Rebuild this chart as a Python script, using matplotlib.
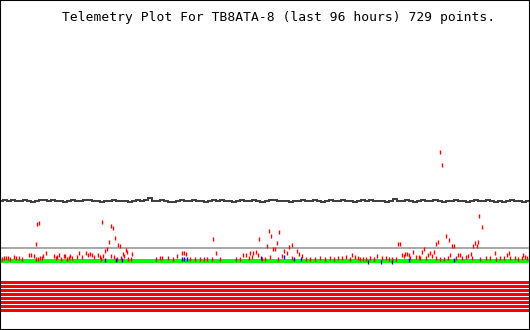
"""Telemetry plot for TB8ATA-8, last 96 hours."""

import matplotlib

matplotlib.use("Agg")
import matplotlib.pyplot as plt
from matplotlib.patches import Rectangle
import numpy as np

TITLE = "Telemetry Plot For TB8ATA-8 (last 96 hours) 729 points."
HOURS = 96

# channel 1 (black trace), evenly sampled over the window
CH1_VALUES = [
    129, 130, 129, 130, 129, 129, 130, 129, 128, 129, 130, 130, 129, 130, 129, 129,
    128, 129, 130, 129, 129, 130, 130, 129, 129, 128, 129, 129, 130, 129, 129, 129,
    128, 129, 130, 129, 130, 132, 129, 129, 130, 129, 128, 128, 129, 130, 129, 129,
    130, 129, 129, 128, 129, 130, 129, 130, 129, 129, 128, 129, 130, 129, 129, 130,
    129, 128, 129, 130, 130, 129, 129, 129, 128, 129, 129, 130, 129, 129, 130, 129,
    128, 129, 130, 129, 129, 130, 129, 129, 128, 129, 130, 129, 130, 129, 129, 129,
    128, 129, 131, 129, 129, 130, 129, 128, 129, 130, 129, 129, 130, 129, 128, 129,
    129, 130, 129, 129, 128, 129, 130, 129, 129, 130, 129, 128, 129, 128, 129, 130,
    129, 129, 128, 129,
]

GRAY_LEVEL = 82.5
GREEN_LEVEL = 69.5

# channel 2 (red samples)
RED_HOURS = [
    6.6, 6.9, 6.4, 18.4, 20.0, 20.4, 20.8, 19.7, 21.3, 21.7, 19.3, 18.9, 22.8, 23.0,
    22.2, 22.4, 23.9, 8.2,
    0.2, 0.5, 0.9, 1.3, 1.6, 2.4, 2.7, 3.3, 3.8, 5.1, 5.5, 6.0, 6.4, 6.7, 7.1, 7.5,
    7.7, 9.7, 10.0, 10.2, 10.6, 10.9, 11.5, 11.7, 12.0, 12.4, 12.6, 12.9, 13.8, 14.2,
    14.8, 15.5, 15.8, 16.2, 16.6, 16.9, 17.7, 18.0, 18.2, 18.6, 20.0, 20.6, 21.1,
    21.9, 23.1, 23.7, 28.2, 29.0, 29.3, 30.4, 31.3, 32.1,
    38.6, 48.8, 49.2, 50.6, 47.0, 48.5, 50.3, 49.5, 49.9, 51.6, 52.1, 52.5, 53.0,
    53.9, 54.3, 54.8,
    33.0, 33.3, 33.7, 39.2, 44.1, 44.6, 45.4, 45.9, 46.5, 46.8, 45.7, 45.2, 49.0,
    51.2, 53.0, 63.9, 34.4, 35.3, 36.2, 37.0, 37.5, 38.4, 39.9, 42.8, 43.5, 47.5,
    48.1, 50.5, 55.6, 56.3, 57.2, 58.1, 59.0, 59.9, 60.7, 61.4, 62.1, 62.8, 63.6,
    64.5, 65.0,
    80.0, 80.3, 87.1, 87.6, 81.1, 79.6, 79.2, 81.6, 82.2, 82.5, 86.3, 86.9, 86.0,
    86.7, 72.3, 72.7, 77.1, 76.7, 78.1, 78.9, 75.0, 73.0, 73.6, 74.0, 74.3, 73.4,
    68.5, 83.2, 83.6, 85.6, 85.1, 84.7, 90.0, 92.5, 92.2, 95.1, 81.8, 77.8, 78.5,
    75.6, 76.1,
    65.4, 65.9, 66.5, 67.2, 67.9, 69.4, 70.1, 70.7, 71.2, 72.0, 74.5, 76.3, 77.4,
    79.2, 80.0, 80.7, 81.4, 82.9, 84.0, 85.8, 87.3, 88.3, 89.1, 90.2, 90.9, 91.6,
    92.7, 93.6, 94.2, 94.9, 95.4, 95.8,
]
RED_VALUES = [
    106, 107, 86, 108, 104, 102, 92, 88, 85, 84, 81, 79, 80, 78,
    76, 74, 76, 77,
    71, 72, 72, 72, 71, 73, 72, 72, 71, 75, 75, 74, 71, 71, 72, 72,
    74, 74, 72, 73, 75, 71, 74, 74, 71, 72, 74, 72, 73, 77,
    73, 77, 75, 76, 75, 73, 75, 73, 71, 74, 74, 73, 71,
    72, 71, 71, 71, 72, 72, 72, 71, 74,
    91, 99, 94, 98, 91, 84, 87, 81, 81, 79, 77, 83, 85,
    79, 76, 74,
    77, 77, 76, 77, 75, 75, 77, 77, 78, 75, 73, 72, 73,
    74, 72, 75, 71, 71, 71, 71, 71, 71, 71, 71, 71, 71,
    71, 71, 71, 71, 71, 72, 71, 72, 71, 72, 72, 73, 71,
    73, 72,
    178, 165, 114, 103, 94, 88, 86, 90, 84, 84, 87, 88, 84,
    84, 86, 86, 81, 78, 77, 78, 78, 75, 76, 76, 75, 74,
    74, 75, 75, 76, 74, 73, 77, 77, 75, 75, 75, 75, 74,
    73, 73,
    71, 71, 71, 72, 71, 72, 72, 71, 71, 71, 72, 72, 72,
    72, 71, 71, 72, 72, 72, 72, 71, 72, 72, 71, 72, 72,
    72, 72, 71, 72, 73, 72,
]

# channel 3 (blue samples)
BLUE_HOURS = [18.9, 20.9, 22.0, 33.0, 33.3, 33.9, 47.4, 51.6, 53.4, 54.6,
              66.9, 69.2, 71.2, 74.3, 82.5]
BLUE_VALUES = [70, 70, 70, 71, 71, 71, 72, 73, 71, 71, 68, 68, 68, 70, 70]

# status bits, all set for the whole window
BIT_LEVELS = [48.5, 44.5, 40.5, 36.5, 32.5, 28.5, 24.5, 20.5]
BIT_STATES = [1, 1, 1, 1, 1, 1, 1, 1]

fig = plt.figure(figsize=(5.3, 3.3), dpi=100)
ax = fig.add_axes([0, 0, 1, 1])
ax.set_xlim(-0.18, 96.36)
ax.set_ylim(0, 330)
ax.axis("off")

for level, state in zip(BIT_LEVELS, BIT_STATES):
    if state:
        ax.hlines(level, 0, HOURS, color="#ff0000", linewidth=2.16, antialiased=False)

ax.axhline(GRAY_LEVEL, color="#aaaaaa", linewidth=1.44, antialiased=False)
ax.axhline(GREEN_LEVEL, color="#00ff00", linewidth=1.6, antialiased=False)

t = np.linspace(0, HOURS, len(CH1_VALUES))
ax.plot(t, CH1_VALUES, color="#404040", linewidth=1.4, drawstyle="steps-mid",
        antialiased=False)

ax.plot(RED_HOURS, RED_VALUES, linestyle="none", marker="|", color="#ff0000",
        markersize=2.2, markeredgewidth=1.0)
ax.plot(BLUE_HOURS, BLUE_VALUES, linestyle="none", marker="|", color="#0000ff",
        markersize=2.2, markeredgewidth=1.0)

fig.text(279 / 530, 1 - 17 / 330, TITLE, ha="center", va="center",
         family="DejaVu Sans Mono", fontsize=9.4, color="black")
fig.add_artist(Rectangle((0, 0), 1, 1, transform=fig.transFigure, fill=False,
                         edgecolor="black", linewidth=1.5))

fig.savefig("out.png", dpi=100, facecolor="white")
